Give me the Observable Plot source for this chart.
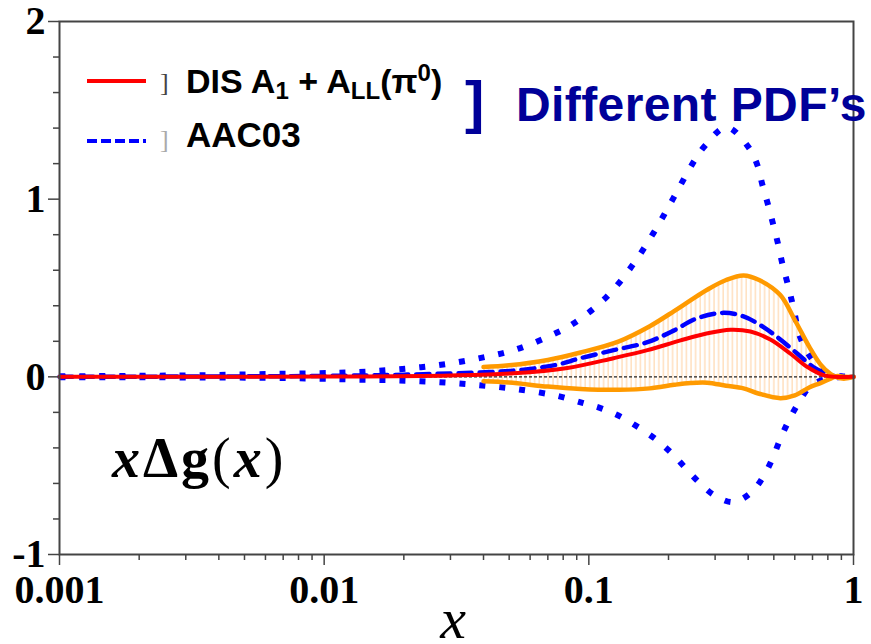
<!DOCTYPE html>
<html><head><meta charset="utf-8">
<script src="https://cdn.jsdelivr.net/npm/d3@7"></script>
<script src="https://cdn.jsdelivr.net/npm/@observablehq/plot@0.6"></script>
<style>
body{margin:0;background:#fff;}
#chart svg{display:block;}
</style></head><body><div id="chart"></div>
<script>
// ---- axis ticks ----
const xTicks = [0.001, 0.01, 0.1, 1];
const xTickLabels = ["0.001", "0.01", "0.1", "1"];
const yTicks = [-1, 0, 1, 2];
const yTickLabels = ["-1", "0", "1", "2"];
const yMinorTicks = [-0.8, -0.6, -0.4, -0.2, 0.2, 0.4, 0.6, 0.8, 1.2, 1.4, 1.6, 1.8];
const xMinorMultipliers = [2, 3, 4, 5, 6, 7, 8, 9];

// ---- AAC03 outer uncertainty (dotted) ----
const aacUpperX = [0.001, 0.003, 0.0056, 0.0094, 0.0134, 0.0189, 0.027, 0.0383, 0.0538, 0.0748, 0.0875, 0.1155, 0.1436, 0.1754, 0.2087, 0.2485, 0.2758, 0.331, 0.401, 0.4335, 0.453, 0.477, 0.498, 0.52, 0.539, 0.563, 0.593, 0.63, 0.705, 0.797, 0.9, 1];
const aacUpperY = [0.003, 0.008, 0.015, 0.02, 0.027, 0.042, 0.066, 0.104, 0.157, 0.245, 0.30, 0.443, 0.612, 0.809, 1.006, 1.208, 1.304, 1.405, 1.293, 1.191, 1.079, 0.961, 0.854, 0.741, 0.634, 0.527, 0.39, 0.22, 0.09, 0.02, 0.003, 0];
const aacLowerX = [0.001, 0.0056, 0.0094, 0.0134, 0.0189, 0.027, 0.0383, 0.0538, 0.0748, 0.0954, 0.1126, 0.1328, 0.154, 0.1785, 0.2034, 0.2297, 0.2594, 0.298, 0.352, 0.411, 0.457, 0.494, 0.529, 0.568, 0.619, 0.688, 0.8, 0.9, 1];
const aacLowerY = [-0.002, -0.005, -0.01, -0.016, -0.02, -0.03, -0.047, -0.07, -0.105, -0.148, -0.18, -0.227, -0.284, -0.35, -0.423, -0.507, -0.59, -0.666, -0.705, -0.65, -0.56, -0.46, -0.35, -0.25, -0.148, -0.052, -0.01, 0, 0];
// ---- AAC03 central (dashed) ----
const aacCentralX = [0.001, 0.01, 0.02, 0.0425, 0.0519, 0.064, 0.0768, 0.093, 0.124, 0.1665, 0.209, 0.257, 0.323, 0.384, 0.457, 0.529, 0.614, 0.705, 0.818, 0.9, 1];
const aacCentralY = [0, 0.005, 0.012, 0.027, 0.035, 0.05, 0.07, 0.105, 0.15, 0.195, 0.26, 0.33, 0.36, 0.34, 0.28, 0.21, 0.13, 0.055, 0.01, 0, 0];
// ---- DIS A1 + ALL(pi0) central (red) ----
const disX = [0.001, 0.01, 0.03, 0.0519, 0.083, 0.124, 0.1665, 0.222, 0.281, 0.343, 0.408, 0.485, 0.578, 0.67, 0.769, 0.85, 1];
const disY = [0, 0.002, 0.008, 0.02, 0.05, 0.105, 0.15, 0.205, 0.245, 0.265, 0.255, 0.21, 0.13, 0.055, 0.01, 0, 0];
// ---- DIS uncertainty band (orange) ----
const bandX  = [0.04, 0.05, 0.07, 0.093, 0.13, 0.17, 0.21, 0.242, 0.28, 0.33, 0.384, 0.44, 0.529, 0.6, 0.68, 0.75, 0.82, 0.87, 0.93, 1];
const bandHi = [0.055, 0.065, 0.095, 0.137, 0.2, 0.285, 0.37, 0.43, 0.49, 0.545, 0.571, 0.545, 0.46, 0.32, 0.17, 0.07, 0.015, -0.005, -0.01, 0];
const bandLo = [-0.025, -0.032, -0.055, -0.068, -0.073, -0.065, -0.045, -0.035, -0.033, -0.05, -0.065, -0.095, -0.12, -0.105, -0.06, -0.035, -0.01, 0.005, 0.0, 0];

const zip = (xs, ys) => xs.map((x, i) => ({x, y: ys[i]}));
const upper = zip(aacUpperX, aacUpperY);
const lower = zip(aacLowerX, aacLowerY);
const central = zip(aacCentralX, aacCentralY);
const dis = zip(disX, disY);
const band = bandX.map((x, i) => ({x, lo: bandLo[i], hi: bandHi[i]}));
const xMinor = xTicks.slice(0, 3).flatMap(d => xMinorMultipliers.map(k => +(k * d).toPrecision(3)));

const axisColor = "#444";
const serif = "Liberation Serif, Times New Roman, serif";

const chart = Plot.plot({
  width: 871, height: 644,
  marginLeft: 59, marginRight: 18, marginTop: 21, marginBottom: 90,
  style: {fontFamily: serif, background: "white", overflow: "visible"},
  x: {type: "log", domain: [0.001, 1], axis: null},
  y: {domain: [-1, 2], axis: null},
  marks: [
    Plot.areaY(band, {x: "x", y1: "lo", y2: "hi", fill: "url(#hatch)", curve: "catmull-rom"}),
    Plot.ruleY([0], {stroke: "#222", strokeWidth: 1.2, strokeDasharray: "3,2"}),
    Plot.line(upper, {x: "x", y: "y", stroke: "#0000ff", strokeWidth: 6, strokeDasharray: "6,14", strokeLinecap: "butt", curve: "catmull-rom"}),
    Plot.line(lower, {x: "x", y: "y", stroke: "#0000ff", strokeWidth: 6, strokeDasharray: "6,14", strokeLinecap: "butt", curve: "catmull-rom"}),
    Plot.line(central, {x: "x", y: "y", stroke: "#0000ff", strokeWidth: 4.5, strokeDasharray: "13,8", curve: "catmull-rom"}),
    Plot.line(band, {x: "x", y: "hi", stroke: "#ff9a00", strokeWidth: 4.5, curve: "catmull-rom"}),
    Plot.line(band, {x: "x", y: "lo", stroke: "#ff9a00", strokeWidth: 4.5, curve: "catmull-rom"}),
    Plot.line(dis, {x: "x", y: "y", stroke: "#ff0000", strokeWidth: 4, curve: "catmull-rom"}),
    Plot.frame({stroke: axisColor, strokeWidth: 2}),
    Plot.axisY(yMinorTicks, {tickSize: 6, tickFormat: () => "", label: null, stroke: axisColor, strokeWidth: 1.5}),
    Plot.axisY(yTicks, {tickSize: 11, tickPadding: 3, label: null, stroke: axisColor, strokeWidth: 1.5,
      tickFormat: d => yTickLabels[yTicks.indexOf(d)],
      fontSize: 40, fontWeight: "bold", fontFamily: serif, fill: "black"}),
    Plot.axisX(xMinor, {tickSize: 6, tickFormat: () => "", label: null, stroke: axisColor, strokeWidth: 1.5}),
    Plot.axisX(xTicks, {tickSize: 11, tickPadding: 9, label: null, stroke: axisColor, strokeWidth: 1.5,
      tickFormat: d => xTickLabels[xTicks.indexOf(d)],
      fontSize: 40, fontWeight: "bold", fontFamily: serif, fill: "black"})
  ]
});
document.getElementById("chart").appendChild(chart);

const svg = d3.select(chart);
const defs = svg.insert("defs", ":first-child");
const pat = defs.append("pattern").attr("id", "hatch")
  .attr("patternUnits", "userSpaceOnUse").attr("width", 4.6).attr("height", 10);
pat.append("line").attr("x1", 1).attr("x2", 1).attr("y1", 0).attr("y2", 10)
  .attr("stroke", "#ffcf9e").attr("stroke-width", 1);

// annotations layer (left-anchored text)
const ann = svg.append("g").attr("text-anchor", "start");
const sans = "Liberation Sans, Arial, sans-serif";
ann.append("line").attr("x1", 87).attr("x2", 146).attr("y1", 81).attr("y2", 81)
  .attr("stroke", "#ff0000").attr("stroke-width", 4);
ann.append("line").attr("x1", 87).attr("x2", 146).attr("y1", 141).attr("y2", 141)
  .attr("stroke", "#0000ff").attr("stroke-width", 4).attr("stroke-dasharray", "10,4");
ann.append("text").attr("x", 160).attr("y", 91).attr("font-family", serif).attr("font-size", 26)
  .attr("fill", "#444").text("]");
ann.append("text").attr("x", 160).attr("y", 148).attr("font-family", serif).attr("font-size", 26)
  .attr("fill", "#aaa").text("]");

const t1 = ann.append("text").attr("x", 186).attr("y", 93).attr("font-family", sans)
  .attr("font-size", 34).attr("font-weight", "bold").attr("fill", "black");
t1.append("tspan").text("DIS A");
t1.append("tspan").attr("font-size", 24).attr("dy", 6).text("1");
t1.append("tspan").attr("dy", -6).text(" + A");
t1.append("tspan").attr("font-size", 24).attr("dy", 6).text("LL");
t1.append("tspan").attr("dy", -6).text("(π");
t1.append("tspan").attr("font-size", 24).attr("dy", -12).text("0");
t1.append("tspan").attr("dy", 12).text(")");

ann.append("text").attr("x", 186).attr("y", 147).attr("font-family", sans)
  .attr("font-size", 35).attr("font-weight", "bold").attr("fill", "black").text("AAC03");

ann.append("text").attr("x", 465).attr("y", 122).attr("font-family", sans)
  .attr("font-size", 58).attr("font-weight", "bold").attr("fill", "#000099").text("]");
ann.append("text").attr("x", 516).attr("y", 121).attr("font-family", sans)
  .attr("font-size", 48).attr("font-weight", "bold").attr("fill", "#000099")
  .attr("letter-spacing", 0.4).text("Different PDF’s");

// y-quantity annotation
const t2 = ann.append("text").attr("x", 112).attr("y", 477).attr("font-family", serif)
  .attr("font-size", 56).attr("letter-spacing", 3).attr("fill", "black");
t2.append("tspan").attr("font-style", "italic").attr("font-weight", "bold").text("x");
t2.append("tspan").attr("font-weight", "bold").text("Δg");
t2.append("tspan").text("(");
t2.append("tspan").attr("font-style", "italic").attr("font-weight", "bold").text("x");
t2.append("tspan").text(")");

// x axis title
svg.append("text").attr("x", 453).attr("y", 638).attr("text-anchor", "middle")
  .attr("font-family", serif).attr("font-style", "italic").attr("font-size", 58)
  .attr("fill", "black").text("x");
</script></body></html>
